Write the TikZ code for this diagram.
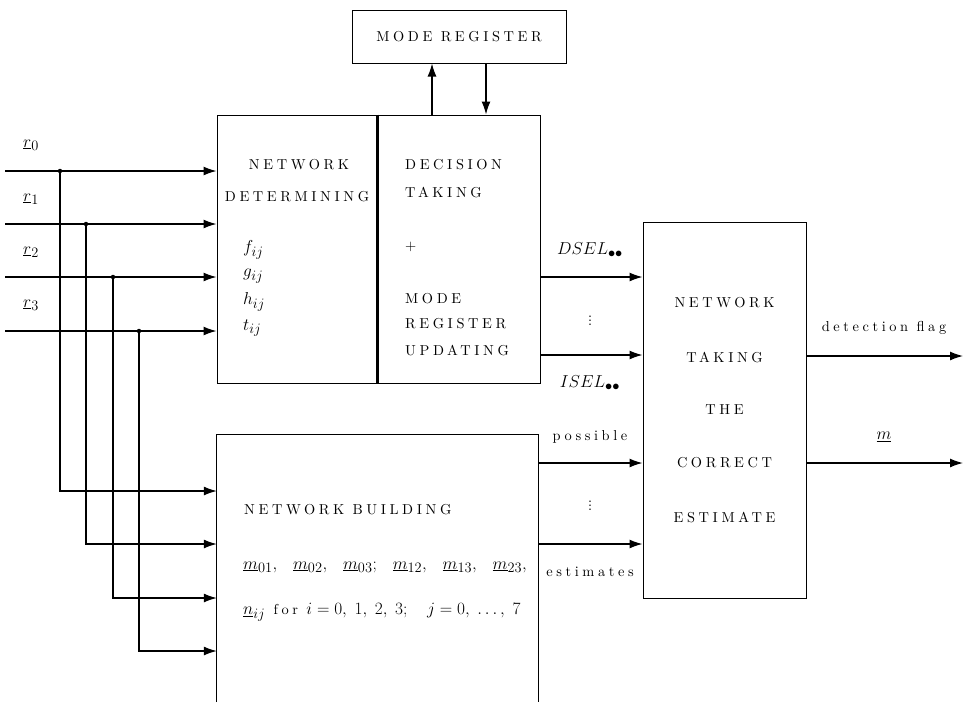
\RequirePackage{fix-cm}
\documentclass[tikz,border=0pt]{standalone}
\usepackage{fontspec}
\setmainfont{lmroman10-regular.otf}[LetterSpace=25, ItalicFont=lmroman10-italic.otf, BoldFont=lmroman10-bold.otf]
\DeclareMathSizes{14.4}{17.28}{14.4}{10}
\usetikzlibrary{arrows.meta}
\tikzset{
  every node/.style={font=\fontsize{14.4}{17}\selectfont, inner sep=1pt},
  box/.style={draw, line width=1pt, inner sep=0pt},
  arr/.style={line width=1.3pt, -{Latex[length=13pt,width=9pt]}},
  tapdot/.style={circle, fill, inner sep=0pt, minimum size=4.5pt},
  dotsnode/.style={inner sep=0pt},
}
\newcommand{\msep}{\hspace{13pt}}
\begin{document}
\begin{tikzpicture}[x=1pt,y=-1pt]
\useasboundingbox (0,0) rectangle (971,702);

% boxes
\node[box, minimum width=214pt, minimum height=53pt] (modereg) at (459,36.5) {MODE REGISTER};
\node[box, minimum width=161pt, minimum height=268pt] (netdet) at (297.5,249) {};
\node[box, minimum width=162pt, minimum height=268pt] (decision) at (459,249) {};
\draw[line width=2.6pt] (decision.north west) -- (decision.south west);
\node[box, minimum width=163pt, minimum height=376pt] (corr) at (724.5,410) {};
\node[inner sep=0pt, minimum width=321pt, minimum height=267pt] (build) at (377.5,568.5) {};
\draw[line width=1pt] (build.south west) -- (build.north west) -- (build.north east) -- (build.south east);

% network determining text
\node (nd1) at (299,165) {NETWORK};
\node (nd2) at (297,197) {DETERMINING};
\node[anchor=west] (fij) at (242,250) {$f_{ij}$};
\node[anchor=west] (gij) at (242,276) {$g_{ij}$};
\node[anchor=west] (hij) at (242,302) {$h_{ij}$};
\node[anchor=west] (tij) at (242,328) {$t_{ij}$};

% decision text
\node[anchor=west] (dt1) at (404,165) {DECISION};
\node[anchor=west] (dt2) at (404,192) {TAKING};
\node[anchor=west] (dt3) at (404,247) {+};
\node[anchor=west] (dt4) at (404,299) {MODE};
\node[anchor=west] (dt5) at (404,324) {REGISTER};
\node[anchor=west] (dt6) at (404,350) {UPDATING};

% correct estimate text
\node (c1) at (724.5,303) {NETWORK};
\node (c2) at (724.5,357) {TAKING};
\node (c3) at (724.5,410) {THE};
\node (c4) at (724.5,463) {CORRECT};
\node (c5) at (724.5,517) {ESTIMATE};

% network building text
\node[anchor=west] (nb1) at (243,510) {NETWORK BUILDING};
\node[anchor=west] (nb2) at (242,567) {$\underline{m}_{01},\msep \underline{m}_{02},\msep \underline{m}_{03};\msep \underline{m}_{12},\msep \underline{m}_{13},\msep \underline{m}_{23},$};
\node[anchor=west] (nb3) at (242,612) {$\underline{n}_{ij}$ for $i=0,\;1,\;2,\;3;\ \ j=0,\;\ldots,\;7$};

% input labels
\node (r0) at (31,145) {$\underline{r}_0$};
\node (r1) at (31,199) {$\underline{r}_1$};
\node (r2) at (31,252) {$\underline{r}_2$};
\node (r3) at (31,305) {$\underline{r}_3$};

% input lines
\coordinate (in0) at (5,171);
\coordinate (in1) at (5,224);
\coordinate (in2) at (5,277);
\coordinate (in3) at (5,331);
\draw[arr] (in0) -- (in0 -| netdet.west);
\draw[arr] (in1) -- (in1 -| netdet.west);
\draw[arr] (in2) -- (in2 -| netdet.west);
\draw[arr] (in3) -- (in3 -| netdet.west);

% taps
\node[tapdot] (tap0) at (60,171) {};
\node[tapdot] (tap1) at (86,224) {};
\node[tapdot] (tap2) at (113,277) {};
\node[tapdot] (tap3) at (139,331) {};
\coordinate (lv0) at (0,491);
\coordinate (lv1) at (0,544);
\coordinate (lv2) at (0,598);
\coordinate (lv3) at (0,651);
\draw[arr] (tap0.center) |- (lv0 -| build.west);
\draw[arr] (tap1.center) |- (lv1 -| build.west);
\draw[arr] (tap2.center) |- (lv2 -| build.west);
\draw[arr] (tap3.center) |- (lv3 -| build.west);

% mode register arrows
\coordinate (up) at (432,0);
\coordinate (dn) at (486,0);
\draw[arr] (up |- decision.north) -- (up |- modereg.south);
\draw[arr] (dn |- modereg.south) -- (dn |- decision.north);

% outputs of decision
\coordinate (o0) at (0,277);
\coordinate (o1) at (0,355);
\draw[arr] (o0 -| decision.east) -- (o0 -| corr.west);
\draw[arr] (o1 -| decision.east) -- (o1 -| corr.west);
\node (dsel) at (590,250) {$DSEL_{\bullet\bullet}$};
\node[dotsnode] (vd1) at (590,318) {$\vdots$};
\node (isel) at (590,383) {$ISEL_{\bullet\bullet}$};

% outputs of building
\coordinate (o2) at (0,463);
\coordinate (o3) at (0,544);
\draw[arr] (o2 -| build.east) -- (o2 -| corr.west);
\draw[arr] (o3 -| build.east) -- (o3 -| corr.west);
\node (poss) at (590,437) {possible};
\node[dotsnode] (vd2) at (590,503) {$\vdots$};
\node (est) at (590,572) {estimates};

% final outputs
\coordinate (e0) at (963,356);
\coordinate (e1) at (963,463);
\draw[arr] (e0 -| corr.east) -- (e0);
\draw[arr] (e1 -| corr.east) -- (e1);
\node (flag) at (884,328) {detection flag};
\node (mout) at (884,437) {$\underline{m}$};
\end{tikzpicture}
\end{document}
